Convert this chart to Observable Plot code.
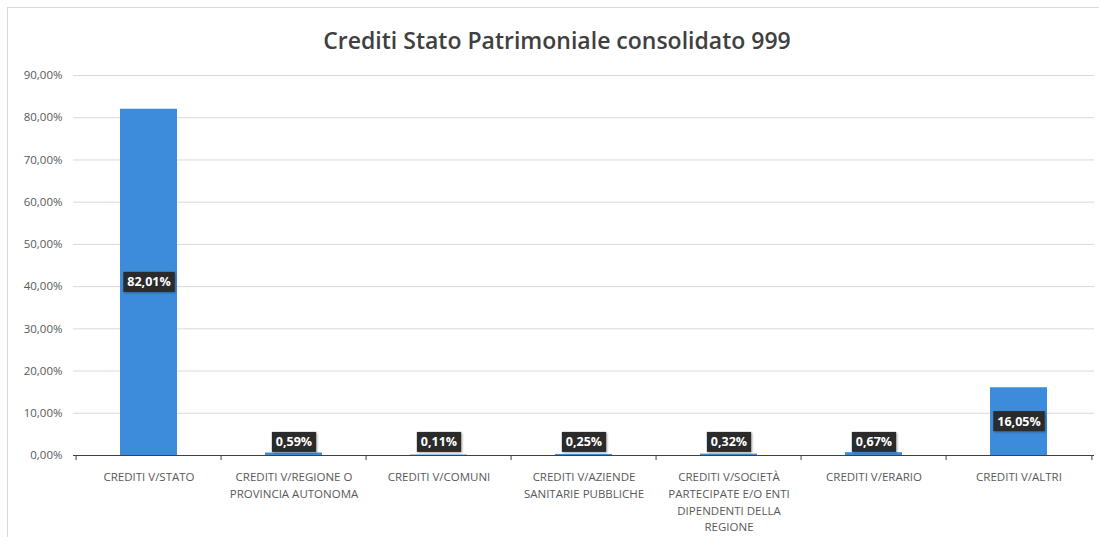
<!DOCTYPE html>
<html><head><meta charset="utf-8">
<script src="https://cdn.jsdelivr.net/npm/d3@7"></script>
<script src="https://cdn.jsdelivr.net/npm/@observablehq/plot@0.6"></script>
<style>
body{margin:0;background:#fff;width:1099px;height:537px;overflow:hidden;position:relative;}
#frame{position:absolute;left:7px;top:7px;width:1100px;height:540px;border-left:1px solid #d9d9d9;border-top:1px solid #d9d9d9;}
#chart{position:absolute;left:0;top:0;}
#title{position:absolute;left:0;top:24px;width:1114px;text-align:center;font:600 23px "Open Sans";color:#404040;line-height:normal;}
</style></head><body>
<div id="frame"></div>
<div id="chart"></div>
<div id="title">Crediti Stato Patrimoniale consolidato 999</div>
<script>
const categories = [
  "CREDITI V/STATO",
  "CREDITI V/REGIONE O PROVINCIA AUTONOMA",
  "CREDITI V/COMUNI",
  "CREDITI V/AZIENDE SANITARIE PUBBLICHE",
  "CREDITI V/SOCIETÀ PARTECIPATE E/O ENTI DIPENDENTI DELLA REGIONE",
  "CREDITI V/ERARIO",
  "CREDITI V/ALTRI"
];
const tickLabels = [
  "CREDITI V/STATO",
  "CREDITI V/REGIONE O\nPROVINCIA AUTONOMA",
  "CREDITI V/COMUNI",
  "CREDITI V/AZIENDE\nSANITARIE PUBBLICHE",
  "CREDITI V/SOCIETÀ\nPARTECIPATE E/O ENTI\nDIPENDENTI DELLA\nREGIONE",
  "CREDITI V/ERARIO",
  "CREDITI V/ALTRI"
];
const values = [0.8201, 0.0059, 0.0011, 0.0025, 0.0032, 0.0067, 0.1605];
const yTicks = [0, 0.1, 0.2, 0.3, 0.4, 0.5, 0.6, 0.7, 0.8, 0.9];

const data = categories.map((c, i) => ({cat: c, value: values[i]}));
const it = d3.formatLocale({decimal: ",", thousands: ".", grouping: [3], currency: ["", "€"]});
const pct = it.format(".2%");

const W = 1099, H = 537, mL = 73, mR = 5, mT = 75, mB = 82;
const bw = (W - mL - mR) / categories.length;

const plot = Plot.plot({
  width: W, height: H,
  marginLeft: mL, marginRight: mR, marginTop: mT, marginBottom: mB,
  style: {fontFamily: "Open Sans", background: "transparent", overflow: "visible"},
  x: {domain: categories, padding: 0, label: null},
  y: {domain: [0, 0.9], label: null},
  marks: [
    Plot.gridY(yTicks, {stroke: "#d9d9d9", strokeOpacity: 1}),
    Plot.axisY(yTicks, {tickSize: 0, tickPadding: 11, tickFormat: pct, fontSize: 11.5, fill: "#595959", label: null}),
    Plot.axisX({tickSize: 0, tickPadding: 14, tickFormat: d => tickLabels[categories.indexOf(d)], fontSize: 11.5, lineHeight: 1.45, fill: "#595959", label: null}),
    Plot.barY(data, {x: "cat", y: "value", fill: "#3d8cdb", insetLeft: 44, insetRight: 44}),
    Plot.ruleY([0], {stroke: "#404040", strokeWidth: 1.2}),
    Plot.ruleX(data, {x: "cat", dx: -bw / 2, y1: 0, y2: 0, insetBottom: -5, stroke: "#404040"}),
    Plot.ruleX(data.slice(-1), {x: "cat", dx: bw / 2, y1: 0, y2: 0, insetBottom: -5, stroke: "#404040"}),
    Plot.text(data, {x: "cat", y: d => Math.max(d.value / 2, 0.031), text: d => pct(d.value), fill: "white", fontWeight: "bold", fontSize: 12.5, className: "vlabel"})
  ]
});
document.getElementById("chart").appendChild(plot);

// dark label boxes behind value labels
const svgNS = "http://www.w3.org/2000/svg";
plot.querySelectorAll("g.vlabel text").forEach(t => {
  const b = t.getBBox();
  const r = document.createElementNS(svgNS, "rect");
  r.setAttribute("x", b.x - 4);
  r.setAttribute("y", b.y - 1.5);
  r.setAttribute("width", b.width + 8);
  r.setAttribute("height", b.height + 3);
  r.setAttribute("fill", "#2b2b2b");
  r.setAttribute("style", "filter: drop-shadow(1px 1px 1px rgba(0,0,0,0.35))");
  if (t.getAttribute("transform")) r.setAttribute("transform", t.getAttribute("transform"));
  t.parentNode.insertBefore(r, t);
});
</script>
</body></html>
